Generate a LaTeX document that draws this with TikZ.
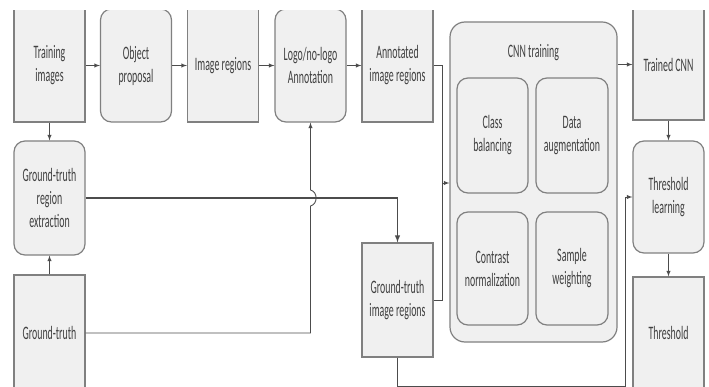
\documentclass[tikz,border=0pt]{standalone}
\usepackage{fontspec}
\setmainfont{Carlito}[FakeStretch=0.52]
\usepackage{tikz}
\usetikzlibrary{positioning, arrows, calc}

\tikzset{
    box/.style={draw=black!50, fill=black!6, line width=1.2pt, inner sep=0pt,
        align=center, text=black!75, minimum width=71pt, minimum height=113pt,
        font=\fontsize{19}{23}\selectfont},
    rbox/.style={box, rounded corners=11pt},
    arr/.style={->, >=latex, draw=black!70, line width=0.9pt},
    link/.style={draw=black!70, line width=0.9pt}
}

\begin{document}
\begin{tikzpicture}[x=1pt, y=-1pt]
            \useasboundingbox (0,0) rectangle (709,387);
            \clip (0,11) rectangle (709,387);

            % top row
            \node[box]  (train)   at (49.5,65.5)  {Training\\images};
            \node[rbox] (objprop) at (136,65.5)   {Object\\proposal};
            \node[box]  (imgreg)  at (223,65.5)   {Image regions};
            \node[rbox] (logo)    at (310.5,65.5) {Logo/no-logo\\Annotation};
            \node[box]  (annot)   at (397.5,65.5) {Annotated\\image regions};
            \node[box, minimum height=111pt] (trained) at (668.5,64.5) {Trained CNN};

            % left column
            \node[rbox, minimum height=114pt] (gtreg) at (49.5,198) {Ground-truth\\region\\extraction};
            \node[box, minimum height=116pt]  (gt)    at (49.5,333) {Ground-truth};
            \node[box, minimum height=114pt]  (gtimg) at (397.5,300) {Ground-truth\\image regions};

            % cnn training
            \node[rbox, rounded corners=15pt, minimum width=167pt, minimum height=320pt] (cnn) at (533.5,182) {};
            \node[text=black!75, font=\fontsize{19}{23}\selectfont] (cnntitle) at (533.5,53) {CNN training};
            \node[rbox, minimum height=115pt] (cbal)  at (492.5,135.5) {Class\\balancing};
            \node[rbox, minimum width=72pt, minimum height=115pt] (daug) at (572,135.5) {Data\\augmentation};
            \node[rbox] (cnorm) at (492.5,268.5) {Contrast\\normalization};
            \node[rbox, minimum width=72pt] (swt) at (572,268.5) {Sample\\weighting};

            % threshold
            \node[rbox, minimum height=112pt] (thrl) at (668.5,197) {Threshold\\learning};
            \node[box, minimum height=112pt]  (thr)  at (668.5,333) {Threshold};

            % straight arrows
            \foreach \a/\b in {train/objprop, objprop/imgreg, imgreg/logo, logo/annot}
            {
                \draw[arr] (\a) -- (\b);
            }
            \draw[arr] (cnn.east |- trained) -- (trained);
            \draw[arr] (trained) -- (thrl);
            \draw[arr] (thrl) -- (thr);
            \draw[arr] (train) -- (gtreg);
            \draw[arr] (gt) -- (gtreg);

            % merge into cnn training
            \coordinate (join) at (442,183);
            \draw[link] (annot.east) -| (join);
            \draw[link] (gtimg.east |- 0,300) -| (join);
            \draw[arr] (join) -- (cnn.west |- join);

            % ground-truth regions
            \draw[arr, line width=1.4pt] (gtreg.east |- 0,198) -| (gtimg.north);

            % ground-truth to annotation, hopping over
            \draw[arr] (gt.east) -| (310.5,206)
                .. controls (318,204) and (318,192) .. (310.5,190)
                -- (logo.south);

            % ground-truth image regions to threshold learning
            \coordinate (low) at (625,386);
            \draw[arr] (gtimg.south) |- (low) |- (thrl.west);
\end{tikzpicture}
\end{document}
